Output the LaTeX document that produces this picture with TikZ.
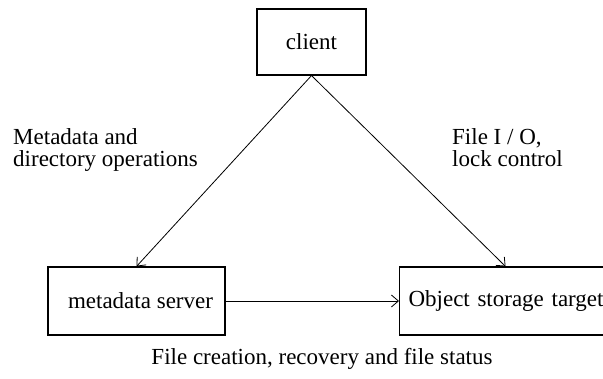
\documentclass[tikz,border=0pt]{standalone}
\usepackage{fontspec}
\setmainfont{Liberation Serif}
\usetikzlibrary{positioning, arrows.meta}

\begin{document}
\begin{tikzpicture}[x=1pt, y=-1pt,
  box/.style={draw, line width=1.1pt, inner sep=0pt},
  arr/.style={draw, line width=0.8pt, -{Straight Barb[length=7pt, width=12pt]}},
  lbl/.style={inner sep=0pt, align=left, font=\fontsize{23}{22}\selectfont}]
      \useasboundingbox (0,0) rectangle (603,379);%
      \clip (0,0) rectangle (603,379);%
      \fontsize{23}{22}\selectfont

      % client
      \node [box, minimum width=109pt, minimum height=66pt] (client) at (311.5,42)
      {client};%

      % servers
      \node [box, minimum width=177pt, minimum height=68pt] (mds) at (136.5,301)
      {\hspace{8pt}metadata server};%
      \node [box, minimum width=212pt, minimum height=68pt, text width=212pt,
      align=left, anchor=west] (ost) at (399,301)
      {\hspace{9pt}Object storage target};%

      % labels
      \node [lbl, anchor=north west] (mdop) at (13,128)
      {Metadata and\\directory operations};%
      \node [lbl, anchor=north west] (fio) at (452,128)
      {File I / O,\\lock control};%
      \node [inner sep=0pt, anchor=base] (fstat) at (322,365)
      {File creation, recovery and file status};%

      % arrows
      \draw [arr] (client.south) -- (mds.north);%
      \draw [arr] (client.south) -- (ost.north);%
      \draw [arr] (mds.east) -- (ost.west);%
\end{tikzpicture}
\end{document}
